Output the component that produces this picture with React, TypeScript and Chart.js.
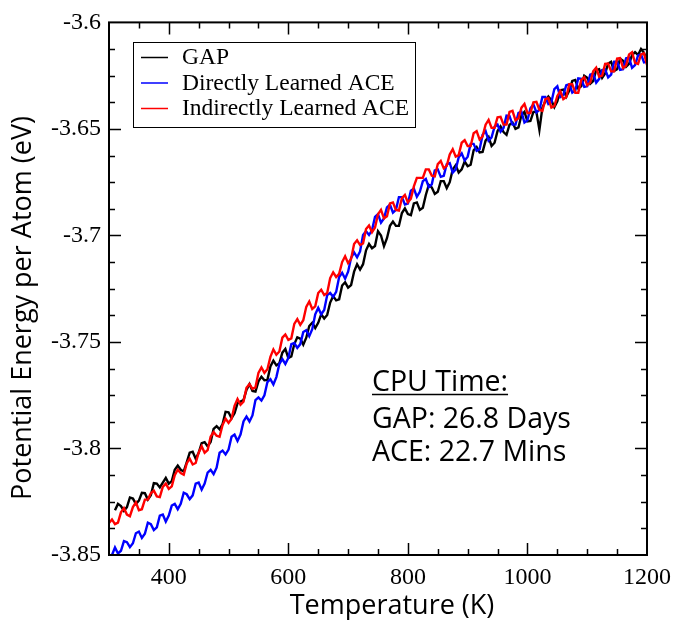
import React, { useEffect, useRef } from "react";
import { Chart, registerables } from "chart.js";
Chart.register(...registerables);

// ---------- data ----------
const temperatures = [
  300, 305, 310, 315, 320, 325, 330, 335, 340, 345,
  350, 355, 360, 365, 370, 375, 380, 385, 390, 395,
  400, 405, 410, 415, 420, 425, 430, 435, 440, 445,
  450, 455, 460, 465, 470, 475, 480, 485, 490, 495,
  500, 505, 510, 515, 520, 525, 530, 535, 540, 545,
  550, 555, 560, 565, 570, 575, 580, 585, 590, 595,
  600, 605, 610, 615, 620, 625, 630, 635, 640, 645,
  650, 655, 660, 665, 670, 675, 680, 685, 690, 695,
  700, 705, 710, 715, 720, 725, 730, 735, 740, 745,
  750, 755, 760, 765, 770, 775, 780, 785, 790, 795,
  800, 805, 810, 815, 820, 825, 830, 835, 840, 845,
  850, 855, 860, 865, 870, 875, 880, 885, 890, 895,
  900, 905, 910, 915, 920, 925, 930, 935, 940, 945,
  950, 955, 960, 965, 970, 975, 980, 985, 990, 995,
  1000, 1005, 1010, 1015, 1020, 1025, 1030, 1035, 1040, 1045,
  1050, 1055, 1060, 1065, 1070, 1075, 1080, 1085, 1090, 1095,
  1100, 1105, 1110, 1115, 1120, 1125, 1130, 1135, 1140, 1145,
  1150, 1155, 1160, 1165, 1170, 1175, 1180, 1185, 1190, 1195,
  1200,
];

const gapEnergy = [
  null, null, -3.829, -3.826, -3.827, -3.8293, -3.8275, -3.823, -3.8235, -3.826,
  -3.8245, -3.8208, -3.821, -3.824, -3.822, -3.8163, -3.8165, -3.8183, -3.816, -3.8138,
  -3.8165, -3.8153, -3.81, -3.808, -3.81, -3.8108, -3.8065, -3.802, -3.8015, -3.8048,
  -3.802, -3.7975, -3.797, -3.799, -3.797, -3.7908, -3.7895, -3.791, -3.7885, -3.7828,
  -3.783, -3.7858, -3.7835, -3.7788, -3.778, -3.7773, -3.7725, -3.7698, -3.773, -3.7733,
  -3.7685, -3.7663, -3.768, -3.7678, -3.7615, -3.7588, -3.761, -3.76, -3.755, -3.7533,
  -3.7575, -3.7568, -3.751, -3.7478, -3.7485, -3.7513, -3.748, -3.7425, -3.741, -3.7435,
  -3.741, -3.737, -3.739, -3.7373, -3.7315, -3.7285, -3.7305, -3.73, -3.7235, -3.722,
  -3.7245, -3.7233, -3.717, -3.7135, -3.716, -3.7135, -3.707, -3.704, -3.706, -3.705,
  -3.698, -3.7, -3.705, -3.7013, -3.6955, -3.6935, -3.6955, -3.6955, -3.6895, -3.6873,
  -3.69, -3.6905, -3.685, -3.6845, -3.688, -3.687, -3.681, -3.6763, -3.6775, -3.6805,
  -3.6795, -3.6745, -3.6745, -3.6778, -3.675, -3.669, -3.667, -3.6705, -3.669, -3.6653,
  -3.6675, -3.6668, -3.66, -3.6585, -3.661, -3.6608, -3.6555, -3.6538, -3.658, -3.6565,
  -3.651, -3.6488, -3.6515, -3.6528, -3.648, -3.647, -3.65, -3.6493, -3.6435, -3.642,
  -3.6465, -3.6463, -3.642, -3.642, -3.6505, -3.64, -3.637, -3.6348, -3.6365, -3.6398,
  -3.637, -3.6318, -3.6315, -3.6348, -3.632, -3.6275, -3.627, -3.631, -3.63, -3.625,
  -3.626, -3.6288, -3.6275, -3.6223, -3.622, -3.626, -3.624, -3.6193, -3.6185, -3.6228,
  -3.622, -3.617, -3.618, -3.6208, -3.6195, -3.6153, -3.614, -3.6153, -3.6125, -3.6143,
  -3.618,
];

const directAceEnergy = [
  -3.851, -3.85, -3.8465, -3.8493, -3.848, -3.8435, -3.844, -3.8463, -3.8445, -3.8398,
  -3.839, -3.842, -3.84, -3.8348, -3.8355, -3.8383, -3.837, -3.8315, -3.831, -3.8343,
  -3.8315, -3.8268, -3.826, -3.8285, -3.826, -3.8208, -3.8215, -3.8238, -3.822, -3.8165,
  -3.816, -3.8193, -3.8165, -3.8113, -3.81, -3.812, -3.809, -3.802, -3.801, -3.8028,
  -3.8005, -3.7945, -3.7935, -3.7965, -3.7935, -3.7873, -3.785, -3.7873, -3.7845, -3.7773,
  -3.776, -3.7775, -3.775, -3.7688, -3.7675, -3.77, -3.7665, -3.7603, -3.758, -3.7603,
  -3.7575, -3.751, -3.7505, -3.7528, -3.751, -3.7453, -3.7445, -3.7473, -3.744, -3.737,
  -3.734, -3.737, -3.735, -3.728, -3.727, -3.7288, -3.7265, -3.7195, -3.7175, -3.7203,
  -3.717, -3.7105, -3.708, -3.7103, -3.7075, -3.6998, -3.698, -3.6998, -3.6975, -3.6913,
  -3.69, -3.694, -3.692, -3.6868, -3.6855, -3.6893, -3.688, -3.682, -3.682, -3.6855,
  -3.685, -3.679, -3.678, -3.6818, -3.6795, -3.6745, -3.6735, -3.6773, -3.676, -3.6695,
  -3.669, -3.6725, -3.672, -3.6665, -3.666, -3.6705, -3.669, -3.6633, -3.6615, -3.6648,
  -3.663, -3.657, -3.657, -3.6603, -3.6595, -3.6528, -3.651, -3.6555, -3.654, -3.649,
  -3.648, -3.6513, -3.6495, -3.6438, -3.644, -3.648, -3.648, -3.6425, -3.642, -3.647,
  -3.646, -3.6403, -3.6385, -3.6423, -3.641, -3.635, -3.635, -3.6383, -3.6375, -3.6313,
  -3.63, -3.635, -3.634, -3.6295, -3.629, -3.633, -3.632, -3.6263, -3.6265, -3.6303,
  -3.63, -3.6245, -3.624, -3.6283, -3.6265, -3.6223, -3.622, -3.6258, -3.6245, -3.6185,
  -3.6185, -3.6223, -3.622, -3.6168, -3.6165, -3.6213, -3.62, -3.6155, -3.615, -3.6188,
  -3.6185,
];

const indirectAceEnergy = [
  -3.835, -3.8333, -3.8355, -3.8348, -3.83, -3.828, -3.831, -3.8318, -3.8275, -3.8253,
  -3.829, -3.8285, -3.824, -3.824, -3.821, -3.8198, -3.8225, -3.8228, -3.818, -3.8165,
  -3.819, -3.8178, -3.8125, -3.81, -3.8115, -3.8123, -3.807, -3.8048, -3.8075, -3.8068,
  -3.802, -3.799, -3.802, -3.8008, -3.7945, -3.7923, -3.794, -3.7945, -3.789, -3.786,
  -3.788, -3.786, -3.78, -3.7768, -3.7795, -3.778, -3.7715, -3.7698, -3.772, -3.7713,
  -3.7645, -3.762, -3.7645, -3.7628, -3.757, -3.7535, -3.756, -3.7545, -3.748, -3.7465,
  -3.749, -3.7483, -3.7415, -3.7393, -3.742, -3.7398, -3.7335, -3.731, -3.7345, -3.7333,
  -3.727, -3.7255, -3.728, -3.727, -3.72, -3.7173, -3.7195, -3.718, -3.7125, -3.7098,
  -3.713, -3.711, -3.704, -3.7023, -3.7045, -3.7038, -3.697, -3.6953, -3.6985, -3.6963,
  -3.69, -3.688, -3.692, -3.691, -3.685, -3.6845, -3.688, -3.6883, -3.6825, -3.681,
  -3.6845, -3.6828, -3.677, -3.673, -3.673, -3.673, -3.669, -3.669, -3.672, -3.6723,
  -3.6665, -3.665, -3.6685, -3.6673, -3.662, -3.6595, -3.663, -3.6623, -3.6565, -3.6553,
  -3.658, -3.658, -3.652, -3.651, -3.655, -3.6535, -3.648, -3.6458, -3.6495, -3.6495,
  -3.6445, -3.6443, -3.648, -3.648, -3.642, -3.6415, -3.646, -3.645, -3.64, -3.6383,
  -3.6425, -3.6425, -3.6375, -3.6373, -3.641, -3.6415, -3.636, -3.6355, -3.64, -3.6393,
  -3.6345, -3.6323, -3.636, -3.635, -3.629, -3.629, -3.633, -3.633, -3.627, -3.6258,
  -3.6295, -3.6283, -3.623, -3.6213, -3.6255, -3.625, -3.6195, -3.6193, -3.623, -3.623,
  -3.617, -3.6168, -3.6215, -3.6203, -3.615, -3.614, -3.619, -3.6195, -3.615, -3.6145,
  -3.62,
];

const seriesNames = ["GAP", "Directly Learned ACE", "Indirectly Learned ACE"];
const seriesColors = ["#000000", "#0000ff", "#ff0000"];

const xTickValues = [400, 600, 800, 1000, 1200];
const yTickValues = [-3.85, -3.8, -3.75, -3.7, -3.65, -3.6];
const xRange = [300, 1200];
const yRange = [-3.85, -3.6];

const xTitle = "Temperature (K)";
const yTitle = "Potential Energy per Atom (eV)";
const noteLines = ["CPU Time:", "GAP: 26.8 Days", "ACE: 22.7 Mins"];

// ---------- style ----------
const SERIF = '"Liberation Serif", "Times New Roman", serif';
const SANS = '"Open Sans", "Noto Sans", sans-serif';

const framePlugin = {
  id: "framePlugin",
  afterDraw(chart: any) {
    const { ctx, chartArea: a, scales } = chart;
    const xs = scales.x;
    const ys = scales.y;
    ctx.save();
    ctx.strokeStyle = "#000";
    // ticks, inward on all sides
    ctx.lineWidth = 1.5;
    for (let v = xRange[0] + 50; v < xRange[1] - 1e-6; v += 50) {
      const px = Math.round(xs.getPixelForValue(v)) + 0.5;
      const len = v % 200 === 0 ? 12 : 6;
      ctx.beginPath();
      ctx.moveTo(px, a.bottom);
      ctx.lineTo(px, a.bottom - len);
      ctx.moveTo(px, a.top);
      ctx.lineTo(px, a.top + len);
      ctx.stroke();
    }
    for (let i = 1; i < 20; i++) {
      const v = yRange[0] + i * 0.0125;
      const py = Math.round(ys.getPixelForValue(v)) + 0.5;
      const len = i % 4 === 0 ? 12 : 6;
      ctx.beginPath();
      ctx.moveTo(a.left, py);
      ctx.lineTo(a.left + len, py);
      ctx.moveTo(a.right, py);
      ctx.lineTo(a.right - len, py);
      ctx.stroke();
    }
    // frame
    ctx.lineWidth = 2;
    ctx.strokeRect(a.left, a.top, a.right - a.left, a.bottom - a.top);

    // legend
    ctx.lineWidth = 1;
    ctx.fillStyle = "#fff";
    ctx.fillRect(133.5, 42.5, 282, 85);
    ctx.strokeRect(133.5, 42.5, 282, 85);
    const rows = [57, 82.5, 108];
    ctx.font = `23.5px ${SERIF}`;
    ctx.textBaseline = "middle";
    ctx.textAlign = "left";
    chart.data.datasets.forEach((d: any, i: number) => {
      ctx.strokeStyle = d.borderColor;
      ctx.lineWidth = 1.5;
      ctx.beginPath();
      ctx.moveTo(141, rows[i] + 0.5);
      ctx.lineTo(168, rows[i] + 0.5);
      ctx.stroke();
      ctx.fillStyle = "#000";
      ctx.fillText(d.label, 182, rows[i] + 1);
    });

    // annotation
    ctx.fillStyle = "#000";
    ctx.strokeStyle = "#000";
    ctx.font = `28.5px ${SANS}`;
    ctx.textBaseline = "alphabetic";
    const baselines = [391, 428, 461];
    noteLines.forEach((t, i) => ctx.fillText(t, 372, baselines[i]));
    const w = ctx.measureText(noteLines[0]).width;
    ctx.lineWidth = 1.5;
    ctx.beginPath();
    ctx.moveTo(372, 394.5);
    ctx.lineTo(372 + w, 394.5);
    ctx.stroke();

    // axis titles
    ctx.font = `27px ${SANS}`;
    ctx.textAlign = "center";
    ctx.fillText(xTitle, 392, 614);
    ctx.save();
    ctx.translate(31, 308);
    ctx.rotate(-Math.PI / 2);
    ctx.fillText(yTitle, 0, 0);
    ctx.restore();
    ctx.restore();
  },
};

export default function App() {
  const ref = useRef<HTMLCanvasElement>(null);
  useEffect(() => {
    document.body.style.margin = "0";
    const seriesValues = [gapEnergy, directAceEnergy, indirectAceEnergy];
    const chart = new Chart(ref.current!, {
      type: "line",
      data: {
        datasets: seriesValues.map((vals, i) => ({
          label: seriesNames[i],
          data: temperatures.map((t, j) => ({ x: t, y: vals[j] })),
          borderColor: seriesColors[i],
          backgroundColor: seriesColors[i],
          borderWidth: 2.4,
          pointRadius: 0,
          tension: 0,
          spanGaps: false,
          order: 2 - i,
        })),
      },
      options: {
        animation: false,
        responsive: false,
        devicePixelRatio: 1,
        layout: { padding: { top: 17, right: 30, left: 0, bottom: 0 } },
        plugins: { legend: { display: false }, tooltip: { enabled: false } },
        scales: {
          x: {
            type: "linear",
            min: xRange[0],
            max: xRange[1],
            grid: { display: false, drawTicks: false },
            border: { display: false },
            afterBuildTicks: (s: any) => {
              s.ticks = xTickValues.map((v) => ({ value: v }));
            },
            afterFit: (s: any) => {
              s.height = 65;
            },
            ticks: {
              autoSkip: false,
              maxRotation: 0,
              padding: 8,
              color: "#000",
              font: { family: SERIF, size: 24 },
              callback: (v: any) => String(v),
            },
          },
          y: {
            type: "linear",
            min: yRange[0],
            max: yRange[1],
            grid: { display: false, drawTicks: false },
            border: { display: false },
            afterBuildTicks: (s: any) => {
              s.ticks = yTickValues.map((v) => ({ value: v }));
            },
            afterFit: (s: any) => {
              s.width = 109;
            },
            ticks: {
              autoSkip: false,
              padding: 8,
              color: "#000",
              font: { family: SERIF, size: 24 },
              callback: (v: any) => String(parseFloat(Number(v).toFixed(2))),
            },
          },
        },
      },
      plugins: [framePlugin],
    } as any);
    return () => chart.destroy();
  }, []);
  return (
    <div style={{ width: 679, height: 620 }}>
      <canvas ref={ref} width={679} height={620} style={{ display: "block" }} />
    </div>
  );
}
